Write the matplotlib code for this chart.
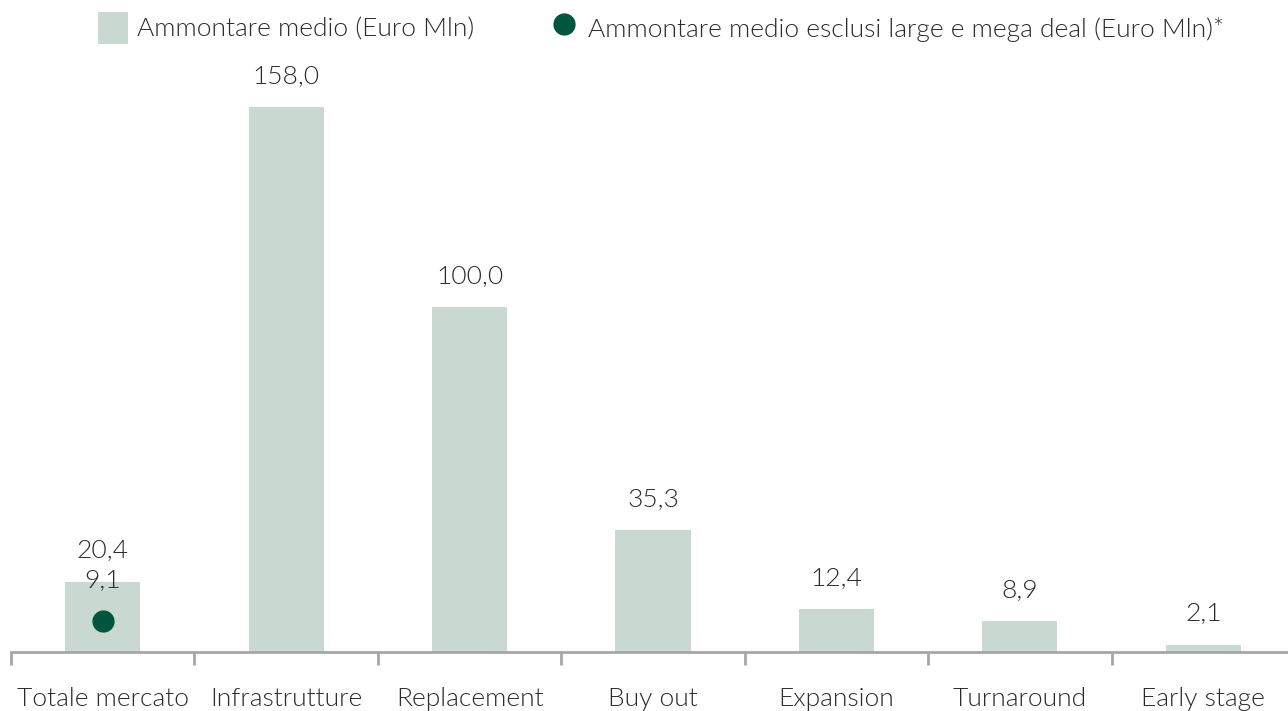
import numpy as np
import matplotlib.pyplot as plt
from matplotlib.patches import Patch
from matplotlib.lines import Line2D

categories = ["Totale mercato", "Infrastrutture", "Replacement", "Buy out",
              "Expansion", "Turnaround", "Early stage"]
ammontare_medio = [20.4, 158.0, 100.0, 35.3, 12.4, 8.9, 2.1]
# only available for the total market
escl_large_mega = [9.1]

bar_color = "#c9d9d2"
dot_color = "#00553d"
text_color = "#2b2b2b"
axis_color = "#a6a6a6"
fs = 19

plt.rcParams["font.family"] = ["Lato", "DejaVu Sans"]
plt.rcParams["font.weight"] = 300

fig = plt.figure(figsize=(12.88, 7.11), dpi=100)
ax = fig.add_axes([11 / 1288, 59 / 711, 1284 / 1288, 586 / 711])

x = np.arange(len(categories))
ax.bar(x, ammontare_medio, width=0.41, color=bar_color, zorder=2)
ax.plot(x[:len(escl_large_mega)], escl_large_mega, "o", color=dot_color,
        markersize=15, zorder=3)

def fmt(v):
    return f"{v:.1f}".replace(".", ",")

for xi, v in zip(x, ammontare_medio):
    ax.annotate(fmt(v), (xi, v), xytext=(0, 22), textcoords="offset points",
                ha="center", va="center", fontsize=fs, color=text_color)
for xi, v in zip(x, escl_large_mega):
    ax.annotate(fmt(v), (xi, v), xytext=(0, 29), textcoords="offset points",
                ha="center", va="center", fontsize=fs, color=text_color)

ax.set_xlim(-0.5, len(categories) - 0.5)
ax.set_ylim(0, 170)
ax.set_yticks([])
ax.set_xticks(x)
ax.set_xticklabels(categories, fontsize=fs, color=text_color)
ax.tick_params(axis="x", length=0, pad=25.5)
# boundary ticks between categories
ax.set_xticks(np.arange(len(categories) + 1) - 0.5, minor=True)
ax.tick_params(axis="x", which="minor", length=9, width=2, color=axis_color)

for s in ["top", "right", "left"]:
    ax.spines[s].set_visible(False)
ax.spines["bottom"].set_color(axis_color)
ax.spines["bottom"].set_linewidth(2)

handles = [
    Patch(facecolor=bar_color, edgecolor="none"),
    Line2D([], [], marker="o", linestyle="none", color=dot_color, markersize=15),
]
labels = ["Ammontare medio (Euro Mln)",
          "Ammontare medio esclusi large e mega deal (Euro Mln)*"]
leg = fig.legend(handles, labels, loc="center", bbox_to_anchor=(661 / 1288, 1 - 28 / 711),
                 ncol=2, frameon=False, fontsize=fs, handlelength=1.15, handleheight=1.5,
                 handletextpad=0.35, columnspacing=2.8)
for t in leg.get_texts():
    t.set_color(text_color)

fig.savefig("out.png", dpi=100)
